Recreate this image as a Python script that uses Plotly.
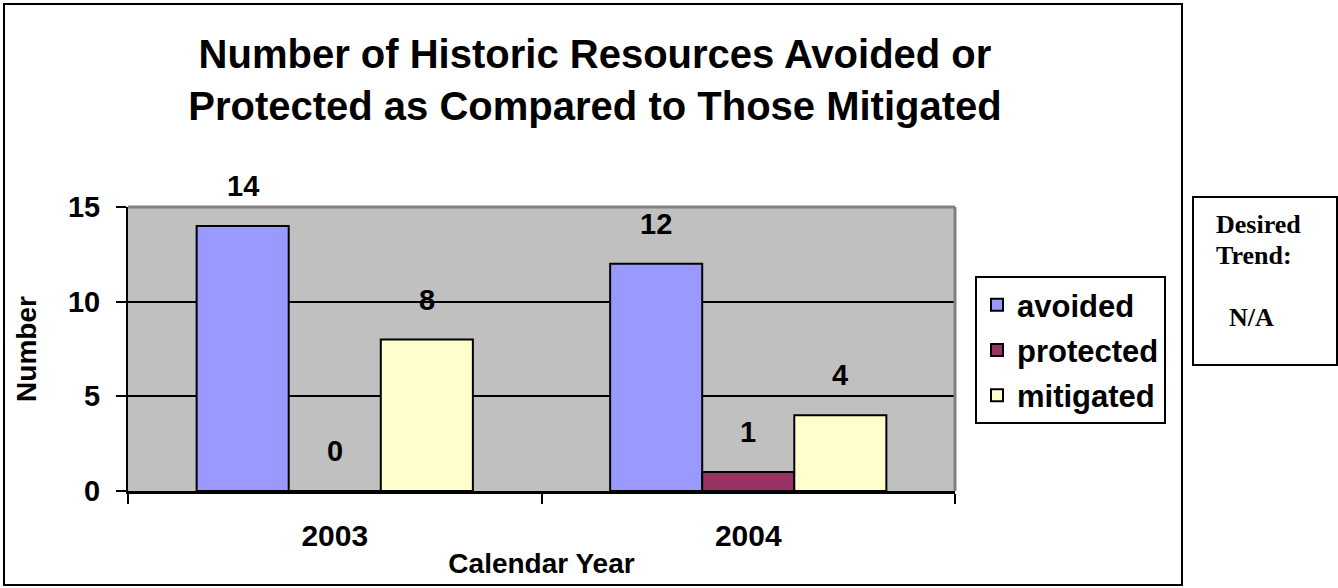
import plotly.graph_objects as go

# ---- data ----
years = ["2003", "2004"]
series = ["avoided", "protected", "mitigated"]
avoided = [14, 12]
protected = [0, 1]
mitigated = [8, 4]
colors = ["#9999FF", "#993366", "#FFFFCC"]

W, H = 1338, 588
# plot area in pixels
L, R, T, B = 128, 955, 207, 491
BARGAP = 0.332


def px_x(p):
    return (p - L) / (R - L)


def px_y(p):
    return (B - p) / (B - T)


values = [avoided, protected, mitigated]
fig = go.Figure()
for i, (name, vals) in enumerate(zip(series, values)):
    fig.add_trace(go.Bar(
        x=years, y=vals, name=name,
        marker=dict(color=colors[i], line=dict(color="black", width=2)),
        legendgroup=name,
    ))

# value labels sit well above each bar, as in the original
bar_px = (R - L) / len(years) * (1 - BARGAP) / len(series)
for i, vals in enumerate(values):
    for j, v in enumerate(vals):
        fig.add_annotation(
            x=j, y=v, text=f"<b>{v}</b>", showarrow=False,
            xshift=(i - 1) * bar_px, yshift=40, yanchor="middle",
            font=dict(family="Liberation Sans", size=29, color="black"),
        )

fig.update_layout(
    width=W, height=H,
    margin=dict(l=L, r=W - R, t=T, b=H - B, autoexpand=False),
    paper_bgcolor="white", plot_bgcolor="#C0C0C0",
    barmode="group", bargap=BARGAP, bargroupgap=0,
    font=dict(family="Liberation Sans", color="black"),
    title=dict(
        text="<b>Number of Historic Resources Avoided or<br>Protected as Compared to Those Mitigated</b>",
        x=595 / W, xanchor="center", xref="container",
        y=1 - 68 / H, yanchor="top", yref="container",
        font=dict(size=40, family="Liberation Sans"),
    ),
    legend=dict(
        x=px_x(975), y=px_y(276), xanchor="left", yanchor="top",
        bordercolor="black", borderwidth=2, bgcolor="white",
        font=dict(size=31, family="Liberation Sans", color="black", weight="bold"),
        traceorder="grouped", tracegroupgap=2,
    ),
    showlegend=True,
)

fig.update_yaxes(
    range=[0, 15], dtick=5, ticks="outside", ticklen=10, tickwidth=2, tickcolor="black",
    showline=True, linecolor="black", linewidth=2,
    showgrid=True, gridcolor="black", gridwidth=2, zeroline=False,
    tickfont=dict(size=29, family="Liberation Sans", weight="bold"),
    ticklabelstandoff=10, automargin=False,
    title=dict(text="<b>Number</b>", font=dict(size=28), standoff=23),
)
fig.update_xaxes(
    type="category", range=[-0.5, len(years) - 0.5], tickangle=0, automargin=False,
    tickson="boundaries", ticks="outside", ticklen=10, tickwidth=2, tickcolor="black",
    showline=True, linecolor="black", linewidth=3,
    tickfont=dict(size=30, family="Liberation Sans", weight="bold"),
    ticklabelstandoff=16,
    title=dict(text="<b>Calendar Year</b>", font=dict(size=28), standoff=3),
)

shapes = [
    # gray plot border on top and right
    dict(type="line", xref="paper", yref="paper", x0=0, x1=1, y0=1, y1=1,
         line=dict(color="#808080", width=3)),
    dict(type="line", xref="paper", yref="paper", x0=1, x1=1, y0=0, y1=1,
         line=dict(color="#808080", width=3)),
    # outer chart border
    dict(type="rect", xref="paper", yref="paper",
         x0=px_x(4), x1=px_x(1182), y0=px_y(585), y1=px_y(4),
         line=dict(color="black", width=2), layer="below"),
    # desired trend box
    dict(type="rect", xref="paper", yref="paper",
         x0=px_x(1193), x1=px_x(1337), y0=px_y(365), y1=px_y(197),
         line=dict(color="black", width=2)),
]
fig.update_layout(shapes=shapes)

trend_font = dict(family="Liberation Serif", size=26, color="black")
for txt, xp, yp in [("Desired", 1214, 224), ("Trend:", 1214, 255), ("N/A", 1227, 317)]:
    fig.add_annotation(
        text=f"<b>{txt}</b>", xref="paper", yref="paper",
        x=px_x(xp), y=px_y(yp), xanchor="left", yanchor="middle",
        showarrow=False, font=trend_font,
    )

# drop the default page margin so the figure sits at the window corner
fig.write_html("out.html", config={"displayModeBar": False},
               post_script="document.body.style.margin='0';")
